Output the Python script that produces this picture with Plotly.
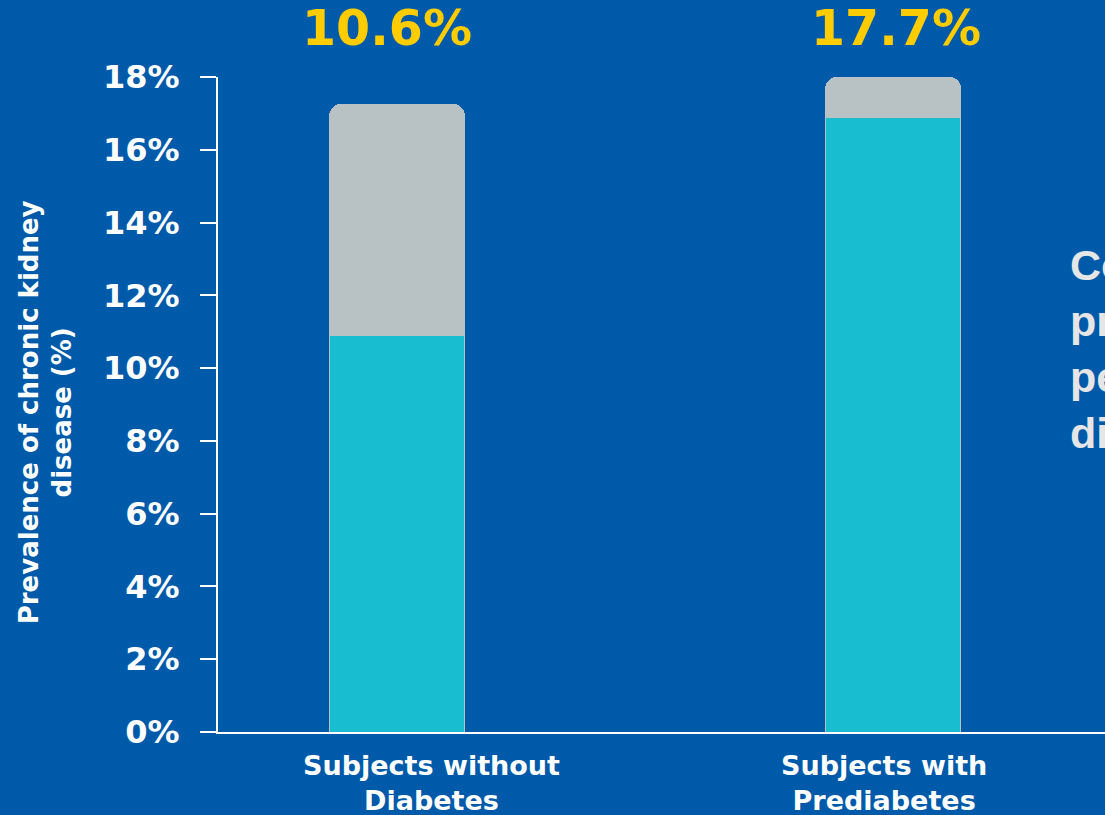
import plotly.graph_objects as go

# Chronic kidney disease prevalence by glycaemic status
categories = ["Subjects without<br>Diabetes", "Subjects with<br>Prediabetes"]
ckd_prevalence = [10.9, 16.9]        # teal segment (%)
upper_segment = [6.35, 1.1]          # grey cap on top of each bar (%)
reported_prevalence = ["10.6%", "17.7%"]
y_ticks = [0, 2, 4, 6, 8, 10, 12, 14, 16, 18]
side_note = ["Compared with", "prevalence in", "people without", "diabetes"]

BG = "#005AAA"
TEAL = "#18BECF"
GREY = "#B8C2C4"
GOLD = "#FFCC00"
FONT = "DejaVu Sans"

x_pos = list(range(len(categories)))

fig = go.Figure()
fig.add_trace(go.Bar(
    x=x_pos, y=ckd_prevalence, width=0.272,
    marker=dict(color=TEAL, line=dict(color=GREY, width=1)),
    hoverinfo="skip", showlegend=False,
))
fig.add_trace(go.Bar(
    x=x_pos, y=upper_segment, width=0.272,
    marker=dict(color=GREY, line=dict(color=GREY, width=1), cornerradius=12),
    hoverinfo="skip", showlegend=False,
))

fig.update_layout(
    width=1105, height=815,
    margin=dict(l=218, r=0, t=77, b=83),
    paper_bgcolor=BG, plot_bgcolor=BG,
    barmode="stack",
    font=dict(family=FONT, color="white"),
    xaxis=dict(
        range=[-0.361, 1.427], showticklabels=False, showgrid=False,
        zeroline=False, showline=True, linecolor="white", linewidth=2,
        ticks="",
    ),
    yaxis=dict(
        range=[0, 18], tickvals=y_ticks,
        ticktext=[f"{v}%" for v in y_ticks],
        tickfont=dict(family=FONT, size=32, color="white", weight="bold"),
        showgrid=False, zeroline=False, showline=True, linecolor="white",
        linewidth=2, ticks="outside", ticklen=16, tickwidth=2,
        tickcolor="white", ticklabelstandoff=14,
    ),
)

# category labels under the bars
cat_shift = [34, -9]
for i, (lab, dx) in enumerate(zip(categories, cat_shift)):
    fig.add_annotation(
        x=i, xref="x", xshift=dx, y=0, yref="paper", yshift=-16,
        yanchor="top", text=f"<b>{lab}</b>", showarrow=False,
        align="center", font=dict(family=FONT, size=27, color="white"),
    )

# reported prevalence above each bar
top_shift = [-10, 3]
for i, (lab, dx) in enumerate(zip(reported_prevalence, top_shift)):
    fig.add_annotation(
        x=i, xref="x", xshift=dx, y=1.0, yref="paper", yshift=49,
        yanchor="middle", text=f"<b>{lab}</b>", showarrow=False,
        font=dict(family=FONT, size=49, color=GOLD),
    )

# y-axis title
fig.add_annotation(
    x=-0.194, xref="paper", xanchor="center", y=0.488, yref="paper",
    yanchor="middle",
    text="<b>Prevalence of chronic kidney<br>disease (%)</b>",
    textangle=-90, showarrow=False, align="center",
    font=dict(family=FONT, size=26, color="white"),
)

# side note running off the right edge
fig.add_annotation(
    x=0.958, xref="paper", xanchor="left", y=0.585, yref="paper",
    yanchor="middle", text="<b>" + "<br>".join(side_note) + "</b>",
    showarrow=False, align="left",
    font=dict(family="Liberation Sans", size=43, color="#E6E6E6"),
)

fig.write_html("out.html")
